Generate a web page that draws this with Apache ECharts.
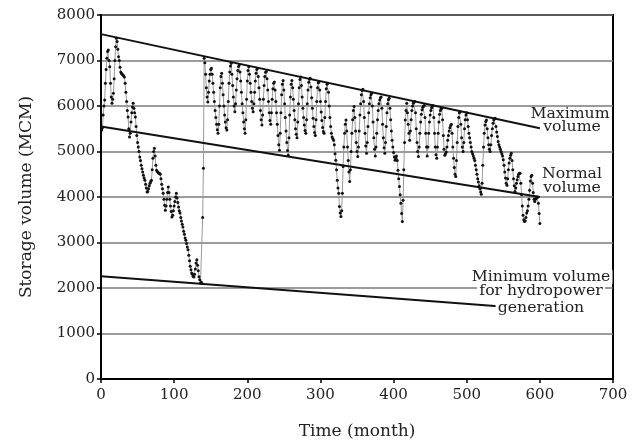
<!DOCTYPE html>
<html>
<head>
<meta charset="utf-8">
<script src="https://cdn.jsdelivr.net/npm/echarts@6/dist/echarts.min.js"></script>
<style>html,body{margin:0;padding:0;background:#fff}#chart{width:636px;height:447px}</style>
</head>
<body>
<div id="chart"></div>
<script>
// Monthly storage volume (MCM), months 1..600
const storage = [
5470,5520,5800,6000,6130,6500,6800,7050,7200,7230,
7000,6860,6500,6200,6060,6150,6280,6600,7000,7300,
7490,7420,7250,7080,7000,6850,6750,6720,6700,6680,
6660,6640,6500,6300,6100,5900,5760,5500,5320,5400,
5650,5850,5980,6060,5950,5850,5760,5550,5350,5200,
5100,5000,4880,4800,4700,4620,4550,4480,4420,4370,
4280,4200,4110,4120,4180,4250,4300,4340,4370,4600,
4850,5000,5070,4900,4700,4590,4560,4540,4520,4520,
4500,4400,4280,4180,4080,3950,3820,3710,3800,3950,
4100,4220,4100,3950,3800,3680,3560,3600,3700,3800,
3900,4000,4080,3980,3880,3780,3700,3650,3550,3470,
3400,3340,3250,3180,3100,3050,2980,2900,2840,2720,
2600,2480,2400,2330,2300,2260,2240,2300,2420,2550,
2620,2500,2380,2250,2180,2110,2130,2100,3550,4630,
7050,6950,6700,6400,6200,6090,6300,6550,6700,6800,
6830,6700,6500,6300,6100,5900,5750,5600,5480,5400,
5600,6000,6400,6650,6720,6500,6250,6000,5800,5650,
5520,5470,5700,6100,6500,6750,6880,6940,6700,6450,
6200,6000,5875,6050,6350,6600,6780,6870,6900,6750,
6550,6300,6050,5850,5650,5500,5400,5700,6150,6550,
6780,6860,6700,6500,6300,6100,5950,5875,6050,6300,
6550,6720,6800,6830,6650,6400,6150,5900,5700,5580,
5800,6150,6450,6650,6740,6760,6600,6350,6100,5850,
5680,5600,5850,6150,6380,6500,6530,6350,6100,5850,
5600,5350,5150,5030,5400,5850,6250,6480,6560,6350,
6050,5750,5450,5200,5020,4920,5300,5800,6200,6480,
6560,6400,6150,5900,5700,5500,5380,5300,5650,6050,
6400,6580,6640,6450,6200,5950,5750,5580,5460,5400,
5700,6050,6350,6520,6590,6610,6420,6180,5950,5730,
5550,5420,5350,5700,6100,6400,6510,6530,6350,6100,
5870,5680,5530,5440,5400,5750,6100,6380,6480,6500,
6300,6000,5750,5550,5400,5320,5280,5250,5150,4950,
4810,4600,4370,4200,4080,3790,3650,3570,3700,4080,
4670,5100,5400,5600,5690,5450,5100,4800,4550,4340,
4600,5000,5400,5700,5900,5990,5750,5450,5200,5000,
4890,5100,5450,5800,6050,6250,6340,6370,6100,5750,
5400,5120,4960,5200,5550,5850,6050,6180,6250,6280,
6000,5650,5300,5050,4900,5100,5400,5700,5900,6050,
6130,6180,6200,5950,5600,5300,5080,4960,5200,5550,
5850,6050,6140,6170,5950,5700,5450,5250,5100,4980,
4880,4810,4850,4900,4800,4590,4400,4230,4050,3860,
3640,3460,3930,4600,5200,5690,5900,6060,5850,5600,
5400,5250,5450,5700,5900,6000,6060,6090,6100,5850,
5500,5200,5000,4890,5100,5400,5650,5820,5920,5970,
6000,6010,5750,5400,5100,4900,5100,5400,5650,5800,
5900,5960,5990,6010,5750,5400,5100,4930,4850,5100,
5400,5650,5820,5900,5940,5950,5700,5350,5050,4920,
4950,4990,5100,5250,5350,5450,5520,5570,5600,5400,
5100,4850,4650,4500,4450,4800,5200,5550,5750,5850,
5875,5600,5300,5100,5000,5200,5500,5700,5800,5850,
5700,5550,5400,5300,5200,5100,5000,4950,4900,4850,
4800,4700,4600,4500,4400,4330,4250,4180,4110,4060,
4300,4700,5100,5400,5580,5660,5690,5500,5300,5150,
5050,5000,5150,5350,5500,5620,5690,5720,5730,5550,
5430,5330,5220,5150,5100,5050,5000,4950,4900,4820,
4700,4550,4420,4300,4260,4400,4600,4750,4850,4920,
4960,4800,4600,4400,4250,4120,4200,4300,4380,4450,
4500,4520,4520,4300,4050,3800,3600,3500,3460,3480,
3550,3650,3700,3800,3950,4150,4350,4450,4480,4300,
4100,3950,3900,3950,4000,3980,4000,3860,3640,3420
];
const months = storage.map((v, i) => i + 1);

// Reference lines (endpoints)
const maxLineX = [0, 600];
const maxLineY = [7580, 5510];
const normalLineX = [0, 600];
const normalLineY = [5550, 4000];
const minLineX = [0, 543];
const minLineY = [2260, 1600];

const xTicks = [0, 100, 200, 300, 400, 500, 600, 700];
const yTicks = [0, 1000, 2000, 3000, 4000, 5000, 6000, 7000, 8000];

const FONT = '"DejaVu Serif", "Liberation Serif", serif';
const pairs = (xs, ys) => xs.map((x, i) => [x, ys[i]]);

const chart = echarts.init(document.getElementById('chart'), null, {renderer: 'canvas'});

function lbl(text, x, y) {
  return {
    type: 'text', x: x, y: y, scaleX: 1.12, z: 100,
    style: {
      text: text, fontSize: 14, fontFamily: FONT, fill: '#222',
      align: 'center', verticalAlign: 'middle',
      backgroundColor: '#fff', padding: [0, 2]
    }
  };
}

chart.setOption({
  animation: false,
  backgroundColor: '#fff',
  grid: {left: 101, right: 23, top: 15, bottom: 68, show: true, borderColor: '#000', borderWidth: 2, backgroundColor: 'transparent'},
  xAxis: {
    type: 'value', min: xTicks[0], max: xTicks[xTicks.length - 1], interval: 100,
    name: 'Time (month)', nameLocation: 'middle', nameGap: 44,
    nameTextStyle: {fontFamily: FONT, fontSize: 17, color: '#222'},
    axisLine: {show: true, onZero: false, lineStyle: {color: '#000', width: 2}},
    axisTick: {show: true, inside: false, length: 4, lineStyle: {color: '#000', width: 1.5}},
    axisLabel: {margin: 9, fontFamily: FONT, fontSize: 15, color: '#222', formatter: v => String(v)},
    splitLine: {show: false}
  },
  yAxis: {
    type: 'value', min: yTicks[0], max: yTicks[yTicks.length - 1], interval: 1000,
    name: 'Storage volume (MCM)', nameLocation: 'middle', nameGap: 66,
    nameTextStyle: {fontFamily: FONT, fontSize: 17, color: '#222'},
    axisLine: {show: true, onZero: false, lineStyle: {color: '#000', width: 2}},
    axisTick: {show: true, inside: false, length: 4, lineStyle: {color: '#000', width: 1.5}},
    axisLabel: {margin: 6, fontFamily: FONT, fontSize: 15, color: '#222', formatter: v => String(v)},
    splitLine: {show: true, lineStyle: {color: '#7a7a7a', width: 1.5}}
  },
  series: [
    {
      type: 'line', name: 'Storage',
      data: pairs(months, storage),
      symbol: 'circle', symbolSize: 3,
      itemStyle: {color: '#111'},
      lineStyle: {color: '#9a9a9a', width: 1},
      z: 3
    },
    {type: 'line', data: pairs(maxLineX, maxLineY), symbol: 'none', lineStyle: {color: '#111', width: 2}, z: 4},
    {type: 'line', data: pairs(normalLineX, normalLineY), symbol: 'none', lineStyle: {color: '#111', width: 2}, z: 4},
    {type: 'line', data: pairs(minLineX, minLineY), symbol: 'none', lineStyle: {color: '#111', width: 2}, z: 4}
  ],
  graphic: [
    lbl('Maximum', 570, 114),
    lbl('volume', 572, 127),
    lbl('Normal', 572, 174),
    lbl('volume', 572, 188),
    lbl('Minimum volume', 541, 277),
    lbl('for hydropower', 541, 291),
    lbl('generation', 541, 308)
  ]
});
</script>
</body>
</html>
